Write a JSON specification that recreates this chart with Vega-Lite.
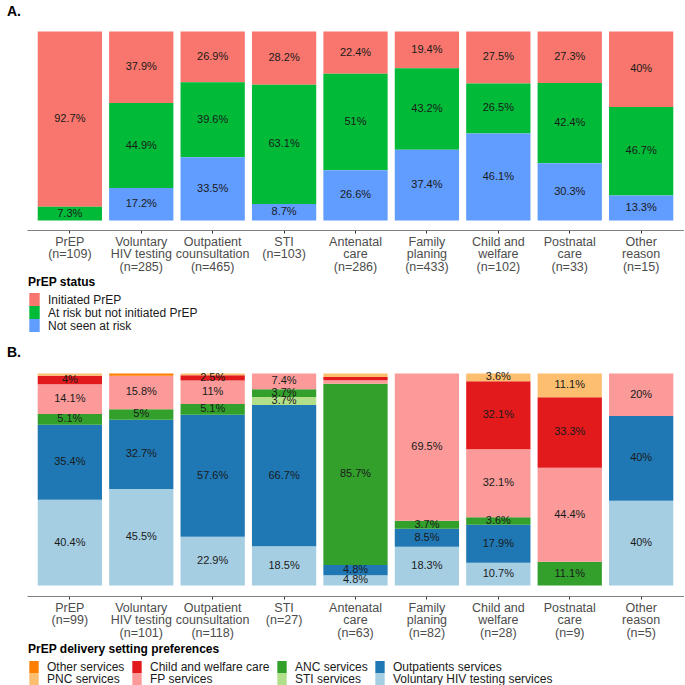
{
  "$schema": "https://vega.github.io/schema/vega-lite/v6.json",
  "padding": {"left": 7, "top": 5, "right": 0, "bottom": 0},
  "spacing": 14,
  "config": {
    "view": {"stroke": null},
    "font": "Liberation Sans",
    "axis": {"labelFont": "Liberation Sans"},
    "legend": {"labelFont": "Liberation Sans", "titleFont": "Liberation Sans"}
  },
  "datasets": {
    "statusA": [
      {"setting": "PrEP|(n=109)", "status": "Initiated PrEP", "pct": 92.7},
      {"setting": "PrEP|(n=109)", "status": "At risk but not initiated PrEP", "pct": 7.3},
      {"setting": "Voluntary|HIV testing|(n=285)", "status": "Initiated PrEP", "pct": 37.9},
      {"setting": "Voluntary|HIV testing|(n=285)", "status": "At risk but not initiated PrEP", "pct": 44.9},
      {"setting": "Voluntary|HIV testing|(n=285)", "status": "Not seen at risk", "pct": 17.2},
      {"setting": "Outpatient|counsultation|(n=465)", "status": "Initiated PrEP", "pct": 26.9},
      {"setting": "Outpatient|counsultation|(n=465)", "status": "At risk but not initiated PrEP", "pct": 39.6},
      {"setting": "Outpatient|counsultation|(n=465)", "status": "Not seen at risk", "pct": 33.5},
      {"setting": "STI|(n=103)", "status": "Initiated PrEP", "pct": 28.2},
      {"setting": "STI|(n=103)", "status": "At risk but not initiated PrEP", "pct": 63.1},
      {"setting": "STI|(n=103)", "status": "Not seen at risk", "pct": 8.7},
      {"setting": "Antenatal|care|(n=286)", "status": "Initiated PrEP", "pct": 22.4},
      {"setting": "Antenatal|care|(n=286)", "status": "At risk but not initiated PrEP", "pct": 51},
      {"setting": "Antenatal|care|(n=286)", "status": "Not seen at risk", "pct": 26.6},
      {"setting": "Family|planing|(n=433)", "status": "Initiated PrEP", "pct": 19.4},
      {"setting": "Family|planing|(n=433)", "status": "At risk but not initiated PrEP", "pct": 43.2},
      {"setting": "Family|planing|(n=433)", "status": "Not seen at risk", "pct": 37.4},
      {"setting": "Child and|welfare|(n=102)", "status": "Initiated PrEP", "pct": 27.5},
      {"setting": "Child and|welfare|(n=102)", "status": "At risk but not initiated PrEP", "pct": 26.5},
      {"setting": "Child and|welfare|(n=102)", "status": "Not seen at risk", "pct": 46.1},
      {"setting": "Postnatal|care|(n=33)", "status": "Initiated PrEP", "pct": 27.3},
      {"setting": "Postnatal|care|(n=33)", "status": "At risk but not initiated PrEP", "pct": 42.4},
      {"setting": "Postnatal|care|(n=33)", "status": "Not seen at risk", "pct": 30.3},
      {"setting": "Other|reason|(n=15)", "status": "Initiated PrEP", "pct": 40},
      {"setting": "Other|reason|(n=15)", "status": "At risk but not initiated PrEP", "pct": 46.7},
      {"setting": "Other|reason|(n=15)", "status": "Not seen at risk", "pct": 13.3}
    ],
    "prefB": [
      {"setting": "PrEP|(n=99)", "pref": "Voluntary HIV testing services", "pct": 40.4},
      {"setting": "PrEP|(n=99)", "pref": "Outpatients services", "pct": 35.4},
      {"setting": "PrEP|(n=99)", "pref": "ANC services", "pct": 5.1},
      {"setting": "PrEP|(n=99)", "pref": "FP services", "pct": 14.1},
      {"setting": "PrEP|(n=99)", "pref": "Child and welfare care", "pct": 4},
      {"setting": "PrEP|(n=99)", "pref": "PNC services", "pct": 1.0},
      {"setting": "Voluntary|HIV testing|(n=101)", "pref": "Voluntary HIV testing services", "pct": 45.5},
      {"setting": "Voluntary|HIV testing|(n=101)", "pref": "Outpatients services", "pct": 32.7},
      {"setting": "Voluntary|HIV testing|(n=101)", "pref": "ANC services", "pct": 5},
      {"setting": "Voluntary|HIV testing|(n=101)", "pref": "FP services", "pct": 15.8},
      {"setting": "Voluntary|HIV testing|(n=101)", "pref": "Other services", "pct": 1.0},
      {"setting": "Outpatient|counsultation|(n=118)", "pref": "Voluntary HIV testing services", "pct": 22.9},
      {"setting": "Outpatient|counsultation|(n=118)", "pref": "Outpatients services", "pct": 57.6},
      {"setting": "Outpatient|counsultation|(n=118)", "pref": "ANC services", "pct": 5.1},
      {"setting": "Outpatient|counsultation|(n=118)", "pref": "FP services", "pct": 11},
      {"setting": "Outpatient|counsultation|(n=118)", "pref": "Child and welfare care", "pct": 2.5},
      {"setting": "Outpatient|counsultation|(n=118)", "pref": "PNC services", "pct": 0.8},
      {"setting": "STI|(n=27)", "pref": "Voluntary HIV testing services", "pct": 18.5},
      {"setting": "STI|(n=27)", "pref": "Outpatients services", "pct": 66.7},
      {"setting": "STI|(n=27)", "pref": "STI services", "pct": 3.7},
      {"setting": "STI|(n=27)", "pref": "ANC services", "pct": 3.7},
      {"setting": "STI|(n=27)", "pref": "FP services", "pct": 7.4},
      {"setting": "Antenatal|care|(n=63)", "pref": "Voluntary HIV testing services", "pct": 4.8},
      {"setting": "Antenatal|care|(n=63)", "pref": "Outpatients services", "pct": 4.8},
      {"setting": "Antenatal|care|(n=63)", "pref": "ANC services", "pct": 85.7},
      {"setting": "Antenatal|care|(n=63)", "pref": "FP services", "pct": 1.6},
      {"setting": "Antenatal|care|(n=63)", "pref": "Child and welfare care", "pct": 1.6},
      {"setting": "Antenatal|care|(n=63)", "pref": "PNC services", "pct": 1.6},
      {"setting": "Family|planing|(n=82)", "pref": "Voluntary HIV testing services", "pct": 18.3},
      {"setting": "Family|planing|(n=82)", "pref": "Outpatients services", "pct": 8.5},
      {"setting": "Family|planing|(n=82)", "pref": "ANC services", "pct": 3.7},
      {"setting": "Family|planing|(n=82)", "pref": "FP services", "pct": 69.5},
      {"setting": "Child and|welfare|(n=28)", "pref": "Voluntary HIV testing services", "pct": 10.7},
      {"setting": "Child and|welfare|(n=28)", "pref": "Outpatients services", "pct": 17.9},
      {"setting": "Child and|welfare|(n=28)", "pref": "ANC services", "pct": 3.6},
      {"setting": "Child and|welfare|(n=28)", "pref": "FP services", "pct": 32.1},
      {"setting": "Child and|welfare|(n=28)", "pref": "Child and welfare care", "pct": 32.1},
      {"setting": "Child and|welfare|(n=28)", "pref": "PNC services", "pct": 3.6},
      {"setting": "Postnatal|care|(n=9)", "pref": "ANC services", "pct": 11.1},
      {"setting": "Postnatal|care|(n=9)", "pref": "FP services", "pct": 44.4},
      {"setting": "Postnatal|care|(n=9)", "pref": "Child and welfare care", "pct": 33.3},
      {"setting": "Postnatal|care|(n=9)", "pref": "PNC services", "pct": 11.1},
      {"setting": "Other|reason|(n=5)", "pref": "Voluntary HIV testing services", "pct": 40},
      {"setting": "Other|reason|(n=5)", "pref": "Outpatients services", "pct": 40},
      {"setting": "Other|reason|(n=5)", "pref": "FP services", "pct": 20}
    ]
  },
  "vconcat": [
    {
      "title": {"text": "A.", "anchor": "start", "fontSize": 14, "fontWeight": "bold", "color": "black", "dx": -20, "offset": 3},
      "width": 657,
      "height": 208,
      "data": {"name": "statusA"},
      "transform": [
        {"calculate": "indexof(['Not seen at risk','At risk but not initiated PrEP','Initiated PrEP'], datum.status)", "as": "rank"},
        {"stack": "pct", "groupby": ["setting"], "sort": [{"field": "rank", "order": "ascending"}], "offset": "normalize", "as": ["y0", "y1"]},
        {"calculate": "(datum.y0 + datum.y1) / 2", "as": "ymid"},
        {"calculate": "datum.pct + '%'", "as": "lbl"}
      ],
      "encoding": {
        "x": {
          "field": "setting", "type": "nominal",
          "sort": ["PrEP|(n=109)", "Voluntary|HIV testing|(n=285)", "Outpatient|counsultation|(n=465)", "STI|(n=103)", "Antenatal|care|(n=286)", "Family|planing|(n=433)", "Child and|welfare|(n=102)", "Postnatal|care|(n=33)", "Other|reason|(n=15)"],
          "scale": {"paddingInner": 0.1, "paddingOuter": 0.15},
          "axis": {"title": null, "labelExpr": "split(datum.label, '|')", "labelAngle": 0, "labelFontSize": 12.5, "labelColor": "#4d4d4d", "labelLineHeight": 12.5, "labelPadding": 2, "labelBaseline": "top", "labelOverlap": false, "tickSize": 3, "tickColor": "#333333", "domainColor": "#808080"}
        }
      },
      "layer": [
        {
          "mark": {"type": "bar"},
          "encoding": {
            "y": {"field": "y0", "type": "quantitative", "scale": {"domain": [-0.05, 1.05], "nice": false, "zero": false}, "axis": null},
            "y2": {"field": "y1"},
            "color": {
              "field": "status", "type": "nominal",
              "scale": {"domain": ["Initiated PrEP", "At risk but not initiated PrEP", "Not seen at risk"], "range": ["#F8766D", "#00BA38", "#619CFF"]},
              "legend": {"orient": "none", "legendX": 1, "legendY": 255, "direction": "vertical", "title": "PrEP status", "titleFontSize": 12, "titleFontWeight": "bold", "titleColor": "black", "titlePadding": 4, "labelFontSize": 12, "labelColor": "#1a1a1a", "labelOffset": 7, "symbolType": "M-0.8,-1H0.8V1H-0.8Z", "symbolSize": 169, "symbolStrokeWidth": 0, "symbolOpacity": 1, "rowPadding": 0, "padding": 0}
            }
          }
        },
        {
          "transform": [{"filter": "datum.pct >= 2"}],
          "mark": {"type": "text", "fontSize": 11, "color": "#1a1a1a", "font": "Liberation Sans"},
          "encoding": {
            "y": {"field": "ymid", "type": "quantitative"},
            "text": {"field": "lbl"}
          }
        }
      ]
    },
    {
      "title": {"text": "B.", "anchor": "start", "fontSize": 14, "fontWeight": "bold", "color": "black", "dx": -20, "offset": 3},
      "width": 657,
      "height": 233,
      "data": {"name": "prefB"},
      "transform": [
        {"calculate": "indexof(['Voluntary HIV testing services','Outpatients services','STI services','ANC services','FP services','Child and welfare care','PNC services','Other services'], datum.pref)", "as": "rank"},
        {"stack": "pct", "groupby": ["setting"], "sort": [{"field": "rank", "order": "ascending"}], "offset": "normalize", "as": ["y0", "y1"]},
        {"calculate": "(datum.y0 + datum.y1) / 2", "as": "ymid"},
        {"calculate": "datum.pct + '%'", "as": "lbl"}
      ],
      "encoding": {
        "x": {
          "field": "setting", "type": "nominal",
          "sort": ["PrEP|(n=99)", "Voluntary|HIV testing|(n=101)", "Outpatient|counsultation|(n=118)", "STI|(n=27)", "Antenatal|care|(n=63)", "Family|planing|(n=82)", "Child and|welfare|(n=28)", "Postnatal|care|(n=9)", "Other|reason|(n=5)"],
          "scale": {"paddingInner": 0.1, "paddingOuter": 0.15},
          "axis": {"title": null, "labelExpr": "split(datum.label, '|')", "labelAngle": 0, "labelFontSize": 12.5, "labelColor": "#4d4d4d", "labelLineHeight": 12.5, "labelPadding": 2, "labelBaseline": "top", "labelOverlap": false, "tickSize": 3, "tickColor": "#333333", "domainColor": "#808080"}
        }
      },
      "layer": [
        {
          "mark": {"type": "bar"},
          "encoding": {
            "y": {"field": "y0", "type": "quantitative", "scale": {"domain": [-0.05, 1.05], "nice": false, "zero": false}, "axis": null},
            "y2": {"field": "y1"},
            "color": {
              "field": "pref", "type": "nominal",
              "scale": {"domain": ["Other services", "PNC services", "Child and welfare care", "FP services", "ANC services", "STI services", "Outpatients services", "Voluntary HIV testing services"], "range": ["#FF7F00", "#FDBF6F", "#E31A1C", "#FB9A99", "#33A02C", "#B2DF8A", "#1F78B4", "#A6CEE3"]},
              "legend": {"orient": "none", "legendX": 1, "legendY": 281, "direction": "vertical", "columns": 4, "columnPadding": 6, "title": "PrEP delivery setting preferences", "titleLimit": 400, "titleFontSize": 12, "titleFontWeight": "bold", "titleColor": "black", "titlePadding": 5, "labelFontSize": 12, "labelColor": "#1a1a1a", "labelOffset": 7, "labelLimit": 300, "symbolType": "M-0.78,-1H0.78V1H-0.78Z", "symbolSize": 144, "symbolStrokeWidth": 0, "symbolOpacity": 1, "rowPadding": 0, "padding": 0}
            }
          }
        },
        {
          "transform": [{"filter": "datum.pct >= 2"}],
          "mark": {"type": "text", "fontSize": 11, "color": "#1a1a1a", "font": "Liberation Sans"},
          "encoding": {
            "y": {"field": "ymid", "type": "quantitative"},
            "text": {"field": "lbl"}
          }
        }
      ]
    }
  ],
  "resolve": {"scale": {"x": "independent", "y": "independent", "color": "independent"}, "legend": {"color": "independent"}}
}
